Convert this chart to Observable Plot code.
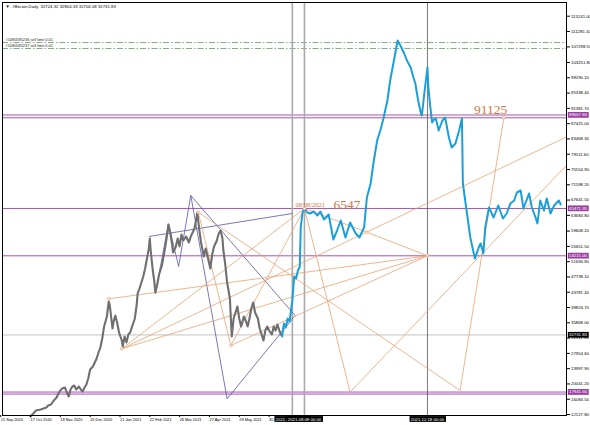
<!DOCTYPE html>
<html><head><meta charset="utf-8">
<script src="https://cdn.jsdelivr.net/npm/d3@7"></script>
<script src="https://cdn.jsdelivr.net/npm/@observablehq/plot@0.6"></script>
<style>html,body{margin:0;padding:0;background:#fff;overflow:hidden}</style>
</head><body><div id="chart"></div>
<script>
// ---- data (days counted from 15 Sep 2020) ----
const baseDate = Date.UTC(2020, 8, 15);
const grayDay = [33,36,39,44,47,50,52,55,58,61,63,65,67,70,72,74,76,78,80,82,85,87,89,91,93,95,97,100,102,104,106,108,110,112,115,117,118,119,121,122,124,126,128,131,132,134,136,138,140,142,145,147,148,150,152,154,156,158,160,161,162,164,166,167,169,171,174,176,178,180,181,183,185,186,189,191,193,195,197,200,203,205,207,209,211,212,214,216,219,221,223,225,226,228,230,233,235,237,239,240,242,244,247,248,249,251,253,255,257,259,262,264,266,268,270,272,274,277,279,281,283,285,287,289,292,294,296,298,300,302];
const grayPrice = [11615,12392,13168,13427,13686,13945,14463,14722,15757,16534,17569,18346,18863,19122,17828,16792,18605,19381,19640,18605,19381,18605,18087,19122,19899,21452,23782,24559,25594,26630,28183,29477,31807,34913,37502,41385,40609,38538,34396,35949,37761,35949,33360,31289,29736,32325,30771,32842,33360,34913,36984,40609,43456,44750,46304,47857,49928,52517,55105,57694,54587,49928,46304,43715,45786,48375,50704,53293,56141,59247,61318,59247,56141,54070,55623,57694,55623,58729,57176,58212,56658,58212,59247,60283,62871,64425,60283,56658,53034,55105,53034,50963,49928,53552,55623,57176,58988,59765,57694,54587,50963,46304,42162,36984,32325,36984,38538,40091,36984,34913,37502,36467,34913,36984,39573,41126,38538,36984,34396,32842,31289,33878,34913,33878,32842,34913,33878,35431,33878,32732];
const blueDay = [303,305,307,309,311,314,316,318,320,322,323,325,327,330,333,337,341,344,348,353,355,358,362,366,371,376,382,386,391,394,398,401,405,409,412,416,419,423,427,430,434,437,441,444,446,449,452,453,456,459,460,462,464,466,468,471,475,478,482,485,489,493,496,497,502,505,508,510,514,516,519,521,525,530,535,540,544,548,552,555,559,562,568,571,575,577,580,584,587,591,595,600,602];
const bluePrice = [32325,35690,34655,37002,36209,41644,47857,47340,49411,50446,60542,64425,65472,64425,64166,64684,63648,64684,62613,63907,61318,57435,59765,62354,57953,61836,58988,57953,60542,68308,71932,77110,83064,86170,89018,93418,98596,103773,108950,107656,105585,103773,101961,99372,97819,93418,90053,89535,96007,101961,96783,91864,87722,88499,88758,85651,88240,89018,83840,81251,82287,85651,88758,71932,63130,57953,54587,52517,55364,56400,53811,60542,65719,63130,66236,62871,64166,66754,67531,69602,70120,65460,69343,65719,63130,61577,67531,64943,68048,64166,66236,67531,66495];

// pivot points of the drawn lines
const pivotName  = ["P1","P2","P3","P4","P5","P6","P7","P8","P9","V1","V2","R1","R2","A","G","C","B","D","E","F","H"];
const pivotDay   = [117,131,213,248,288,394,459,541,327,376,494,608,608,160,314,167,181,192,205,244,317];
const pivotPrice = [42082,29141,64502,29995,47520,59325,53215,88940,65472,17941,18346,83969,76591,58212,64166,43378,61501,50446,68825,16197,37761];
const orangeFrom = ["P1","P2","P2","P2","P4","P4","P3","P9","P9","P6","V1","V2","P3"];
const orangeTo   = ["P7","P9","R1","P7","P9","P7","P4","V1","P6","P7","R2","P8","V2"];
const orangeDots = ["P1","P2","P3","P4","P5","P6","P7","P8","P9"];
const navyFrom = ["A","C","B","D","E","F","E"];
const navyTo   = ["G","B","D","E","F","H","H"];

const priceTicks = [115241.00,111285.10,107298.50,103251.80,99290.10,95338.40,91381.70,87425.00,83468.30,79511.60,75554.90,71598.20,67641.50,63684.80,59608.20,55651.50,51694.80,47738.10,43781.40,39824.70,35868.00,31911.30,27954.60,23997.90,20041.20,16084.50,12127.80];
const dateTickDay = [0,32,64,96,128,160,192,224,256,288];
const dateTickLabel = ["15 Sep 2020","17 Oct 2020","18 Nov 2020","20 Dec 2020","21 Jan 2021","22 Feb 2021","26 Mar 2021","27 Apr 2021","29 May 2021","30 Jun 2021"];

const purpleLevels = [89667.84, 88940, 65471.95, 53215.00, 17941.66, 17420];
const purpleBoxes = [89667.84, 65471.95, 53215.00, 17941.66];
const sellLimits = [108430, 106880];
const sellLabels = ["#1080585236 sell limit 0.01", "#1080585237 sell limit 0.01"];
const lastPrice = 32731.83;
const header = "▼  #Bitcoin,Daily  32724.32 32804.33 32704.08 32731.83";
const vLineDay = [314, 327, 459];
const vLineLabel = ["2021.07.26 00:00", "2021.08.08 00:00", "2021.12.18 00:00"];
const noteDate = "08/08/2021", noteValue = "6547", targetValue = "91125";

// ---- build ----
const toDate = d => new Date(baseDate + d * 864e5);
const gray = grayDay.map((d, i) => ({date: toDate(d), price: grayPrice[i]}));
const blue = blueDay.map((d, i) => ({date: toDate(d), price: bluePrice[i]}));
const piv = new Map(pivotName.map((n, i) => [n, {date: toDate(pivotDay[i]), price: pivotPrice[i]}]));
const orangeSegs = orangeFrom.map((a, i) => ({a: piv.get(a), b: piv.get(orangeTo[i])}));
const navySegs = navyFrom.map((a, i) => ({a: piv.get(a), b: piv.get(navyTo[i])}));
const dots = orangeDots.map(n => piv.get(n));
const vLines = vLineDay.map((d, i) => ({date: toDate(d), label: vLineLabel[i]}));
const dateTicks = dateTickDay.map(toDate);
const dateLabelMap = new Map(dateTicks.map((d, i) => [+d, dateTickLabel[i]]));
const priceFmt = d => d.toFixed(2);
const ORANGE = "#e8a272", NAVY = "#5656a8", PURPLE = "#a454b0", TXT = "'Liberation Sans', Arial, sans-serif";

const chart = Plot.plot({
  width: 590, height: 425,
  marginLeft: 2, marginTop: 2, marginRight: 24, marginBottom: 10,
  x: {type: "utc", domain: [toDate(2.97), toDate(608.2)], label: null},
  y: {domain: [11874, 118787], label: null},
  style: {fontFamily: TXT, fontSize: "4.3px", background: "#fff", color: "#000", overflow: "visible"},
  marks: [
    Plot.ruleY(sellLimits, {stroke: "#6fa86f", strokeWidth: 0.9, strokeDasharray: "6,2,1.5,2"}),
    Plot.ruleY(purpleLevels, {stroke: PURPLE, strokeWidth: 1}),
    Plot.ruleY([lastPrice], {stroke: "#c4c4c4", strokeWidth: 1}),
    Plot.ruleX(vLines.slice(0, 2), {x: "date", stroke: "#a9a9a9", strokeWidth: 1.6}),
    Plot.ruleX(vLines.slice(2), {x: "date", stroke: "#555", strokeWidth: 0.8}),
    Plot.link(navySegs, {x1: d => d.a.date, y1: d => d.a.price, x2: d => d.b.date, y2: d => d.b.price, stroke: NAVY, strokeWidth: 0.8}),
    Plot.link(orangeSegs, {x1: d => d.a.date, y1: d => d.a.price, x2: d => d.b.date, y2: d => d.b.price, stroke: ORANGE, strokeWidth: 0.8}),
    Plot.line(gray, {x: "date", y: "price", stroke: "#6f6f6f", strokeWidth: 2.1}),
    Plot.text([noteDate], {x: piv.get("P9").date, y: piv.get("P9").price, dx: -9, dy: -1, textAnchor: "start", lineAnchor: "bottom", fill: "#d4743e", fontFamily: "'Liberation Serif', serif", fontSize: 6.5}),
    Plot.text([noteValue], {x: piv.get("P9").date, y: piv.get("P9").price, dx: 29, dy: 0.5, textAnchor: "start", lineAnchor: "bottom", fill: "#d4743e", fontFamily: "'Liberation Serif', serif", fontSize: 13.5}),
    Plot.text([targetValue], {x: piv.get("P8").date, y: piv.get("P8").price, dx: -30, dy: -4, textAnchor: "start", lineAnchor: "bottom", fill: "#d4743e", fontFamily: "'Liberation Serif', serif", fontSize: 13.5}),
    Plot.line(blue, {x: "date", y: "price", stroke: "#1c9fd8", strokeWidth: 2}),
    Plot.dot(dots, {x: "date", y: "price", r: 1.3, stroke: ORANGE, fill: "#fff", strokeWidth: 0.8}),
    Plot.text([header], {frameAnchor: "top-left", dx: 3, dy: 2.5, fill: "#000"}),
    Plot.text(sellLabels, {y: (d, i) => sellLimits[i], frameAnchor: "left", dx: 3, dy: -2.6, textAnchor: "start", fontSize: 3.9, fill: "#222"}),
    Plot.frame({stroke: "#000", strokeWidth: 1}),
    Plot.axisY(priceTicks, {anchor: "right", label: null, tickSize: 3, tickPadding: 1.5, tickFormat: priceFmt, fontSize: 4.3}),
    Plot.axisX(dateTicks, {anchor: "bottom", label: null, tickSize: 2, tickPadding: 1, textAnchor: "start", dx: 1, tickFormat: d => dateLabelMap.get(+d), fontSize: 3.9}),
    Plot.text(purpleBoxes, {y: d => d, frameAnchor: "right", dx: 2.5, textAnchor: "start", text: priceFmt, fill: "#fff", fontSize: 4.3, className: "boxp"}),
    Plot.text([lastPrice], {y: d => d, frameAnchor: "right", dx: 2.5, textAnchor: "start", text: priceFmt, fill: "#fff", fontSize: 4.3, className: "boxk"}),
    Plot.text(vLines, {x: "date", frameAnchor: "bottom", dy: 5, text: "label", fill: "#fff", fontSize: 4.3, className: "boxk"})
  ]
});
document.getElementById("chart").append(chart);
// label backgrounds (MT4-style boxes) sized from the rendered text
const NS = "http://www.w3.org/2000/svg";
for (const [cls, color] of [["boxp", "#9c3fa3"], ["boxk", "#000"]]) {
  chart.querySelectorAll(`g.${cls} text`).forEach(t => {
    const b = t.getBBox();
    const r = document.createElementNS(NS, "rect");
    r.setAttribute("x", b.x - 1.2); r.setAttribute("y", b.y - 0.4);
    r.setAttribute("width", b.width + 2.4); r.setAttribute("height", b.height + 0.8);
    r.setAttribute("fill", color);
    if (t.getAttribute("transform")) r.setAttribute("transform", t.getAttribute("transform"));
    t.parentNode.insertBefore(r, t);
  });
}
</script>
</body></html>
